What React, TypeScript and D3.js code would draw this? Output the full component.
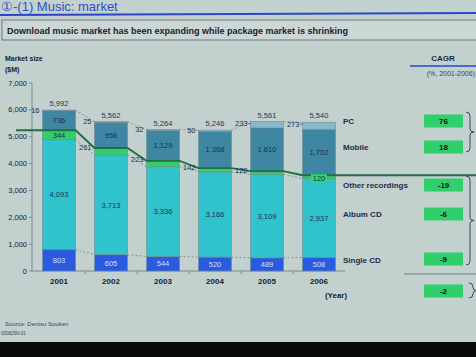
import React from "react";
import * as d3 from "d3";

const years = ["2001", "2002", "2003", "2004", "2005", "2006"];
const singleCD = [803, 605, 544, 520, 489, 508];
const albumCD = [4093, 3713, 3336, 3166, 3109, 2937];
const otherRec = [344, 261, 223, 142, 120, 120];
const mobile = [736, 958, 1129, 1368, 1610, 1702];
const pc = [16, 25, 32, 50, 233, 273];
const totals = [5992, 5562, 5264, 5246, 5561, 5540];
const yTicks = [0, 1000, 2000, 3000, 4000, 5000, 6000, 7000];
const legendNames = ["PC", "Mobile", "Other recordings", "Album CD", "Single CD"];
const cagr = ["76", "18", "-19", "-6", "-9", "-2"];

const W = 476;
const H = 357;
const BG = "#c3d1ce";
const colors: Record<string, string> = {
  single: "#2a5bde",
  album: "#30c3cc",
  other: "#35cc6a",
  mobile: "#3e86a2",
  pc: "#8bb7cb",
};

const fmt = d3.format(",");

export default function App() {
  const x = d3.scaleBand<string>().domain(years).range([42.5, 335.5]).paddingInner(0.365).paddingOuter(0);
  const y = d3.scaleLinear().domain([0, 7000]).range([271, 83]);
  const bw = x.bandwidth();

  const rows = years.map((yr, i) => {
    const s0 = 0;
    const s1 = singleCD[i];
    const a1 = s1 + albumCD[i];
    const o1 = a1 + otherRec[i];
    const m1 = o1 + mobile[i];
    const p1 = m1 + pc[i];
    return {
      yr,
      i,
      segs: [
        { key: "single", y0: s0, y1: s1 },
        { key: "album", y0: s1, y1: a1 },
        { key: "other", y0: a1, y1: o1 },
        { key: "mobile", y0: o1, y1: m1 },
        { key: "pc", y0: m1, y1: p1 },
      ],
      s1,
      a1,
      o1,
      m1,
      total: totals[i],
    };
  });

  const greenPts: [number, number][] = [];
  greenPts.push([16, y(rows[0].o1)]);
  rows.forEach((r) => {
    const x0 = x(r.yr)!;
    greenPts.push([x0, y(r.o1)]);
    greenPts.push([x0 + bw, y(r.o1)]);
  });
  greenPts.push([476, y(rows[rows.length - 1].o1)]);
  const line = d3.line();

  const connectors: { x1: number; y1: number; x2: number; y2: number }[] = [];
  for (let i = 0; i < rows.length - 1; i++) {
    const a = rows[i];
    const b = rows[i + 1];
    const xa = x(a.yr)! + bw;
    const xb = x(b.yr)!;
    connectors.push({ x1: xa, y1: y(a.total), x2: xb, y2: y(b.total) });
    connectors.push({ x1: xa, y1: y(a.a1), x2: xb, y2: y(b.a1) });
    connectors.push({ x1: xa, y1: y(a.s1), x2: xb, y2: y(b.s1) });
  }

  const legendY = [121, 147, 185, 214, 260];
  const cagrY = [121, 147, 185, 214, 259, 291];

  const brace = (bx: number, y1: number, y2: number) => {
    const mid = (y1 + y2) / 2;
    return `M${bx},${y1} Q${bx + 4},${y1} ${bx + 4},${y1 + 4} L${bx + 4},${mid - 3} Q${bx + 4},${mid} ${bx + 8},${mid} Q${bx + 4},${mid} ${bx + 4},${mid + 3} L${bx + 4},${y2 - 4} Q${bx + 4},${y2} ${bx},${y2}`;
  };

  const font = "'Liberation Sans', Arial, sans-serif";

  return (
    <svg width={W} height={H} style={{ position: "absolute", left: 0, top: 0, display: "block" }} fontFamily={font}>
      <rect x={0} y={0} width={W} height={H} fill={BG} />
      <text x={1} y={11} fontSize={13} fill="#2f4fc4">①-(1) Music:  market</text>
      <line x1={0} y1={15} x2={W} y2={13} stroke="#2a45c8" strokeWidth={2} />
      <rect x={2} y={20} width={480} height={20} fill="#cad7d4" stroke="#6f7a7c" strokeWidth={1} />
      <text x={7} y={34} fontSize={9} fontWeight="bold" fill="#1c2030">
        Download music market has been expanding while package market is shrinking
      </text>
      <text x={5} y={61} fontSize={7} fontWeight="bold" fill="#1c2030">Market size</text>
      <text x={5} y={72} fontSize={7} fontWeight="bold" fill="#1c2030">($M)</text>
      <text x={443} y={61} fontSize={8} fontWeight="bold" fill="#1c2a48" textAnchor="middle">CAGR</text>
      <line x1={410} y1={66} x2={W} y2={66} stroke="#2a45c8" strokeWidth={1.5} />
      <text x={475} y={76} fontSize={7} fill="#3a4660" textAnchor="end">(%, 2001-2006)</text>

      <line x1={32} y1={y(7000)} x2={32} y2={y(0)} stroke="#7d8a8a" strokeWidth={1} />
      {yTicks.map((t) => (
        <g key={t}>
          <line x1={29} x2={32} y1={y(t)} y2={y(t)} stroke="#7d8a8a" />
          <text x={27} y={y(t)} dy="0.35em" fontSize={7.5} fill="#1c2030" textAnchor="end">
            {fmt(t)}
          </text>
        </g>
      ))}
      <line x1={32} y1={y(0)} x2={345} y2={y(0)} stroke="#7d8a8a" strokeWidth={1} />
      {years.slice(0, -1).map((yr, i) => {
        const xm = (x(yr)! + bw + x(years[i + 1])!) / 2;
        return <line key={yr} x1={xm} x2={xm} y1={y(0)} y2={y(0) + 3} stroke="#7d8a8a" />;
      })}

      {connectors.map((c, i) => (
        <line key={i} x1={c.x1} y1={c.y1} x2={c.x2} y2={c.y2} stroke="#7a8585" strokeWidth={0.8} strokeDasharray="2,2" />
      ))}

      {rows.map((r) => (
        <g key={r.yr}>
          {r.segs.map((s) => (
            <rect
              key={s.key}
              x={x(r.yr)!}
              y={y(s.y1)}
              width={bw}
              height={y(s.y0) - y(s.y1)}
              fill={colors[s.key]}
              stroke="#6f8c94"
              strokeWidth={0.6}
            />
          ))}
        </g>
      ))}

      <path d={line(greenPts) || ""} fill="none" stroke="#1f6f45" strokeWidth={1.8} />

      {rows.map((r) => {
        const cx = x(r.yr)! + bw / 2;
        const x0 = x(r.yr)!;
        return (
          <g key={r.yr} fontSize={7.5}>
            <text x={cx} y={y(r.total) - 4} textAnchor="middle" fill="#2a3550">{fmt(r.total)}</text>
            <text x={cx} y={(y(r.s1) + y(0)) / 2} dy="0.35em" textAnchor="middle" fill="#cfe0ff">{fmt(singleCD[r.i])}</text>
            <text x={cx} y={(y(r.a1) + y(r.s1)) / 2} dy="0.35em" textAnchor="middle" fill="#1d2f58">{fmt(albumCD[r.i])}</text>
            <text x={cx} y={(y(r.m1) + y(r.o1)) / 2} dy="0.35em" textAnchor="middle" fill="#1d2f58">{fmt(mobile[r.i])}</text>
            {r.i === 0 ? (
              <text x={cx} y={(y(r.o1) + y(r.a1)) / 2} dy="0.35em" textAnchor="middle" fill="#1d2f58">{fmt(otherRec[r.i])}</text>
            ) : r.i === rows.length - 1 ? (
              <g>
                <rect x={cx - 8} y={y(r.o1) - 1} width={16} height={8} fill="#35d36a" />
                <text x={cx} y={y(r.o1) + 3} dy="0.35em" textAnchor="middle" fill="#1d2f58">{fmt(otherRec[r.i])}</text>
              </g>
            ) : (
              <text x={x0 - 3} y={y(r.o1) - 1} dy="0.35em" textAnchor="end" fill="#1d2f58">{fmt(otherRec[r.i])}</text>
            )}
            <text x={x0 - 3} y={y(r.total) + (r.i >= 4 ? 2 : 0)} dy="0.35em" textAnchor="end" fill="#1d2f58">{fmt(pc[r.i])}</text>
            {r.i >= 4 && (
              <line x1={x0 - 2} x2={x0} y1={y(r.total) + 2} y2={y(r.total) + 2} stroke="#1d2f58" strokeWidth={0.8} />
            )}
            <text x={cx} y={284} fontSize={8} fontWeight="bold" textAnchor="middle" fill="#1c2030">{r.yr}</text>
          </g>
        );
      })}
      <text x={336} y={298} fontSize={8} fontWeight="bold" textAnchor="middle" fill="#1c2030">(Year)</text>

      {legendNames.map((n, i) => (
        <text key={n} x={343} y={legendY[i]} dy="0.35em" fontSize={8} fontWeight="bold" fill="#1e2b4a">{n}</text>
      ))}
      {cagr.map((c, i) => (
        <g key={i}>
          <rect x={424} y={cagrY[i] - 6.5} width={39} height={13} fill="#31cf6c" />
          <text x={443.5} y={cagrY[i]} dy="0.35em" fontSize={8} fontWeight="bold" textAnchor="middle" fill="#111">{c}</text>
        </g>
      ))}
      <line x1={404} y1={274} x2={W} y2={274} stroke="#6f7a7c" strokeWidth={1} />
      <path d={brace(466, 112, 152)} fill="none" stroke="#3a4660" strokeWidth={1} />
      <path d={brace(466, 176, 265)} fill="none" stroke="#3a4660" strokeWidth={1} />
      <path d={brace(469, 283, 298)} fill="none" stroke="#3a4660" strokeWidth={1} />

      <text x={5} y={326} fontSize={6} fill="#3a4660">Source: Dentsu Souken</text>
      <text x={1} y={335} fontSize={4.5} fill="#3a4660">000825N-01</text>
      <rect x={0} y={342} width={W} height={15} fill="#0a0a0c" />
    </svg>
  );
}
